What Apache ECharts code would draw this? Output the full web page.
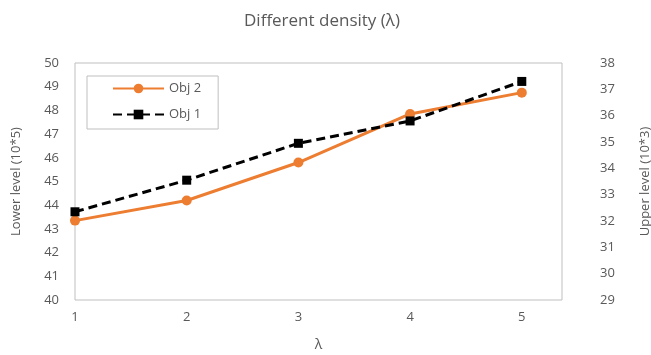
<!DOCTYPE html>
<html>
<head>
<meta charset="utf-8">
<script src="https://cdn.jsdelivr.net/npm/echarts@6/dist/echarts.min.js"></script>
<style>
  html, body { margin: 0; padding: 0; background: #fff; }
  #chart { width: 651px; height: 355px; }
</style>
</head>
<body>
<div id="chart"></div>
<script>
// λ values on the x axis
const lambdaValues = [1, 2, 3, 4, 5];
// Obj 2 on the lower-level (left) axis
const obj2Lower = [43.35, 44.2, 45.8, 47.85, 48.75];
// Obj 1 on the upper-level (right) axis
const obj1Upper = [32.35, 33.55, 34.95, 35.8, 37.3];

const textColor = '#595959';
const fontFamily = '"Open Sans", Lato, sans-serif';

const chart = echarts.init(document.getElementById('chart'));
chart.setOption({
  animation: false,
  textStyle: { fontFamily: fontFamily },
  title: {
    text: 'Different density (λ)',
    left: 239,
    top: 8,
    textStyle: { fontSize: 17, fontWeight: 'normal', color: textColor, fontFamily: fontFamily }
  },
  legend: {
    orient: 'vertical',
    left: 87,
    top: 76,
    data: ['Obj 2', 'Obj 1'],
    itemWidth: 51,
    itemHeight: 12,
    itemGap: 13,
    padding: [6, 17, 8, 25],
    borderColor: '#bfbfbf',
    borderWidth: 1,
    textStyle: { fontSize: 13, color: textColor, fontFamily: fontFamily }
  },
  grid: {
    left: 75, right: 89, top: 63, bottom: 55,
    outerBoundsMode: 'none',
    containLabel: false,
    show: true,
    borderColor: '#bfbfbf',
    borderWidth: 1
  },
  xAxis: {
    type: 'value',
    min: 1,
    max: 5.36,
    interval: 1,
    name: 'λ',
    nameLocation: 'middle',
    nameGap: 38,
    nameTextStyle: { fontSize: 14, color: textColor },
    axisLine: { show: false },
    axisTick: { show: false },
    splitLine: { show: false },
    axisLabel: {
      color: textColor, fontSize: 13, margin: 11,
      showMaxLabel: false,
      formatter: v => (Number.isInteger(v) ? String(v) : '')
    }
  },
  yAxis: [
    {
      type: 'value',
      min: 40, max: 50, interval: 1,
      position: 'left',
      name: 'Lower level (10*5)',
      nameLocation: 'middle',
      nameGap: 52,
      nameTextStyle: { fontSize: 13, color: textColor },
      axisLine: { show: false },
      axisTick: { show: false },
      splitLine: { show: false },
      axisLabel: { color: textColor, fontSize: 13, margin: 16 }
    },
    {
      type: 'value',
      min: 29, max: 38, interval: 1,
      position: 'right',
      name: 'Upper level (10*3)',
      nameLocation: 'middle',
      nameGap: 77,
      nameRotate: 90,
      nameTextStyle: { fontSize: 13, color: textColor },
      axisLine: { show: false },
      axisTick: { show: false },
      splitLine: { show: false },
      axisLabel: { color: textColor, fontSize: 13, margin: 38 }
    }
  ],
  series: [
    {
      name: 'Obj 2',
      type: 'line',
      yAxisIndex: 0,
      data: lambdaValues.map((x, i) => [x, obj2Lower[i]]),
      symbol: 'circle',
      symbolSize: 10,
      color: '#ED7D31',
      lineStyle: { width: 3, color: '#ED7D31' },
      itemStyle: { color: '#ED7D31' }
    },
    {
      name: 'Obj 1',
      type: 'line',
      yAxisIndex: 1,
      data: lambdaValues.map((x, i) => [x, obj1Upper[i]]),
      symbol: 'rect',
      symbolSize: 9,
      color: '#000000',
      lineStyle: { width: 3, color: '#000000', type: [9, 5] },
      itemStyle: { color: '#000000' }
    }
  ]
});
</script>
</body>
</html>
